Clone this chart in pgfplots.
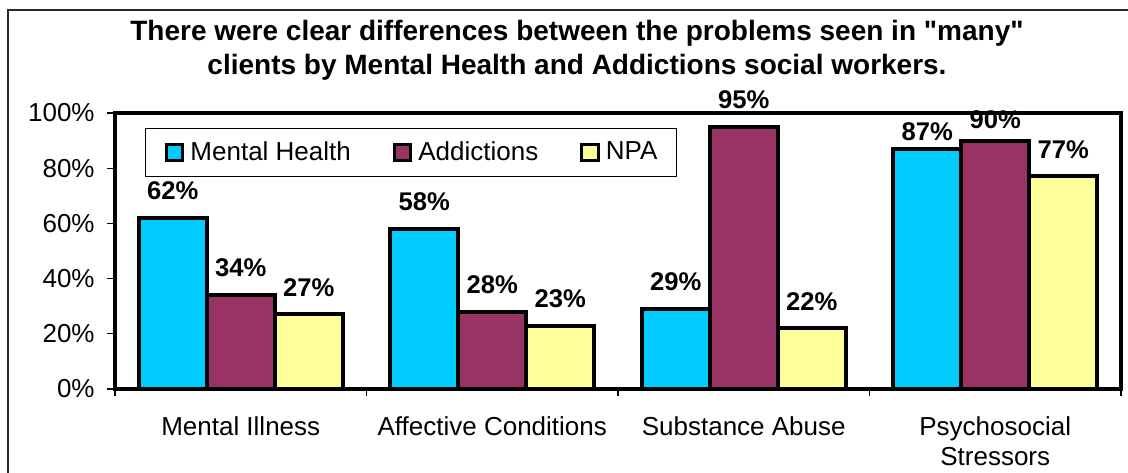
\documentclass[border=0pt]{standalone}
\usepackage{fontspec}
\setmainfont{Liberation Sans}
\newfontfamily\titlefont{Liberation Sans}
\usepackage{pgfplots}
\usepackage{pgfplotstable}
\pgfplotsset{compat=1.18}

\definecolor{mhblue}{HTML}{00CCFF}
\definecolor{addpurple}{HTML}{993366}
\definecolor{npayellow}{HTML}{FFFF99}

% x = category, y = percent, off = label lift in pt
\pgfplotstableread{
x y off
0 62 8.0
1 58 8.0
2 29 8.0
3 87 3.2
}\mentalhealth
\pgfplotstableread{
x y off
0 34 8.0
1 28 8.0
2 95 8.0
3 90 5.0
}\addictions
\pgfplotstableread{
x y off
0 27 8.0
1 23 8.0
2 22 8.0
3 77 8.0
}\npa

\begin{document}
\begin{tikzpicture}
\useasboundingbox (0,0) rectangle (564pt,236pt);
\draw[line width=0.75pt, black!85] (4pt,-10pt) rectangle (600pt,231pt);

\node[font=\titlefont\bfseries\fontsize{14}{17}\selectfont, anchor=base] at (288.5pt,215.5pt)
  {There were clear differences between the problems seen in "many"};
\node[font=\titlefont\bfseries\fontsize{14}{17}\selectfont, anchor=base] at (288.5pt,198.5pt)
  {clients by Mental Health and Addictions social workers.};

\begin{axis}[
    at={(57.5pt,41.5pt)}, anchor=south west,
    width=503pt, height=138pt, scale only axis,
    ybar=0pt, bar width=0.27,
    xmin=-0.5, xmax=3.5, ymin=0, ymax=100,
    clip=false, axis on top,
    axis line style={line width=2pt, black},
    xtick={0,1,2,3},
    xticklabels={Mental Illness, Affective Conditions, Substance Abuse, {Psychosocial\\Stressors}},
    minor xtick={-0.5,0.5,1.5,2.5,3.5},
    major x tick style={draw=none},
    minor tick length=3.5pt,
    ytick={0,20,40,60,80,100},
    yticklabel={\pgfmathprintnumber{\tick}\%},
    tick align=outside, major tick length=4pt,
    tick style={line width=0.6pt, black},
    ytick pos=left, xtick pos=bottom,
    /pgf/number format/assume math mode=true,
    tick label style={font=\fontsize{13}{15}\selectfont},
    xticklabel style={align=center, anchor=north, inner sep=0pt, yshift=-9.5pt},
    yticklabel style={anchor=east, inner sep=0pt, xshift=-6pt},
    nodes near coords={\pgfmathprintnumber{\pgfplotspointmeta}\%},
    visualization depends on={\thisrow{off} \as \labellift},
    every node near coord/.append style={font=\bfseries\fontsize{12.8}{15}\selectfont,
        inner sep=0pt, anchor=south, yshift=\labellift pt},
    legend columns=3,
    legend style={at={(0.0303,0.9457)}, anchor=north west,
        draw=black, line width=0.5pt, fill=white,
        inner xsep=9.5pt, inner ysep=6.5pt,
        column sep=3pt,
        nodes={inner sep=0pt, font=\fontsize{13}{15}\selectfont},
        /tikz/every even column/.append style={column sep=21pt}},
    legend image code/.code={
        \draw[#1,/tikz/.cd,draw=black,line width=1.5pt] (0.75pt,-4pt) rectangle (9pt,4pt);},
]
\addplot[fill=mhblue, draw=black, line width=2pt] table[x=x, y=y] {\mentalhealth};
\addlegendentry{Mental Health}
\addplot[fill=addpurple, draw=black, line width=2pt] table[x=x, y=y] {\addictions};
\addlegendentry{Addictions}
\addplot[fill=npayellow, draw=black, line width=2pt] table[x=x, y=y] {\npa};
\addlegendentry{NPA}
\end{axis}
\end{tikzpicture}
\end{document}
